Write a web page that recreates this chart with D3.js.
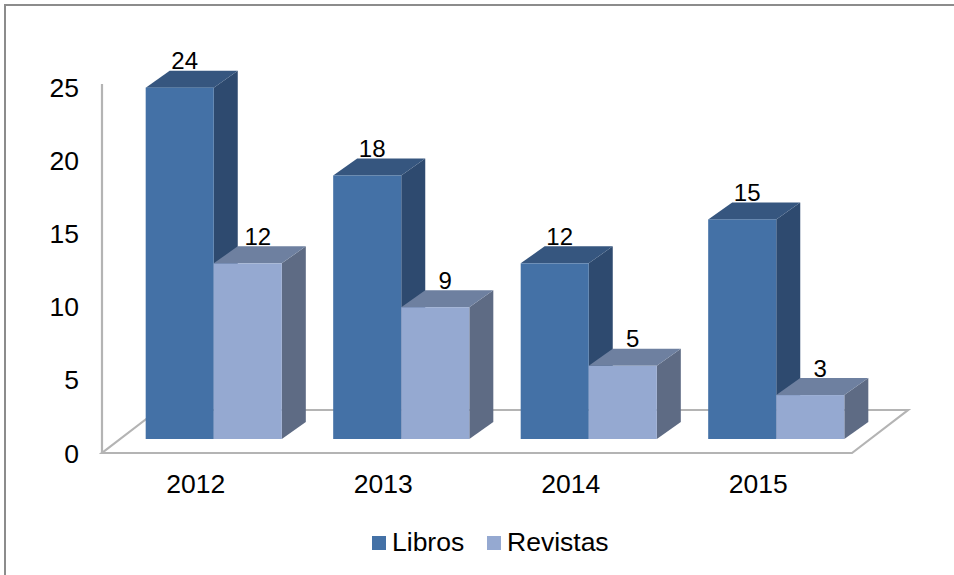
<!DOCTYPE html>
<html>
<head>
<meta charset="utf-8">
<script src="https://cdn.jsdelivr.net/npm/d3@7"></script>
<style>
html,body{margin:0;padding:0;background:#fff;}
svg{display:block;font-family:"Liberation Sans",Arial,sans-serif;}
</style>
</head>
<body>
<svg id="chart" width="954" height="575"></svg>
<script>
const categories = ["2012","2013","2014","2015"];
const seriesNames = ["Libros","Revistas"];
const libros = [24,18,12,15];
const revistas = [12,9,5,3];
const yTicks = [0,5,10,15,20,25];

const seriesValues = [libros, revistas];
const colors = {
  Libros:   {front:"#4471a6", side:"#2e4a6f", top:"#36567f", labelDx:5},
  Revistas: {front:"#95a9d1", side:"#5e6b84", top:"#6e80a0", labelDx:10}
};

const svg = d3.select("#chart");
const W = 954, H = 575;

// outer border (only top and left visible in reference)
svg.append("rect").attr("x",5).attr("y",5).attr("width",W+10).attr("height",H+10)
  .attr("fill","none").attr("stroke","#8c8c8c").attr("stroke-width",2);

const x0 = 102, x1 = 852, yBase = 453;
const x = d3.scaleBand().domain(categories).range([x0, x1]).paddingInner(0.274).paddingOuter(0.137);
const xs = d3.scaleBand().domain(seriesNames).range([0, x.bandwidth()]);
const y = d3.scaleLinear().domain([0,25]).range([yBase, 87]);

const floorD = {dx:56, dy:-43};
const barShift = {dx:18, dy:-14};
const barD = {dx:24, dy:-17};

// floor
const floorPts = [[x0,yBase],[x1,yBase],[x1+floorD.dx,yBase+floorD.dy],[x0+floorD.dx,yBase+floorD.dy]];
svg.append("polygon").attr("points", floorPts.map(p=>p.join(",")).join(" "))
  .attr("fill","#fff").attr("stroke","#b4b4b4").attr("stroke-width",2.2).attr("stroke-linejoin","miter");

// vertical axis line
svg.append("line").attr("x1",x0).attr("x2",x0).attr("y1",y(25)-3).attr("y2",yBase)
  .attr("stroke","#b4b4b4").attr("stroke-width",2.2);

// y tick labels
svg.append("g").selectAll("text").data(yTicks).join("text")
  .attr("x",79).attr("y",d=>y(d)).attr("dy","0.36em")
  .attr("text-anchor","end").attr("font-size",26.5).attr("fill","#000")
  .text(d=>d);

// category labels
svg.append("g").selectAll("text").data(categories).join("text")
  .attr("x",d=>x(d)+x.bandwidth()/2).attr("y",492.5)
  .attr("text-anchor","middle").attr("font-size",26.5).attr("fill","#000")
  .text(d=>d);

// bars
const bars = [];
categories.forEach((c,i)=>{
  seriesNames.forEach((s,j)=>{
    bars.push({cat:c, series:s, value:seriesValues[j][i]});
  });
});

const gBars = svg.append("g");
bars.forEach(b=>{
  const fx = x(b.cat) + xs(b.series) + barShift.dx;
  const w = xs.bandwidth();
  const yb = y(0) + barShift.dy;
  const yt = y(b.value) + barShift.dy;
  const col = colors[b.series];
  const g = gBars.append("g");
  g.append("polygon").attr("points",[
    [fx+w,yt],[fx+w+barD.dx,yt+barD.dy],[fx+w+barD.dx,yb+barD.dy],[fx+w,yb]
  ].map(p=>p.join(",")).join(" ")).attr("fill",col.side);
  g.append("polygon").attr("points",[
    [fx,yt],[fx+barD.dx,yt+barD.dy],[fx+w+barD.dx,yt+barD.dy],[fx+w,yt]
  ].map(p=>p.join(",")).join(" ")).attr("fill",col.top);
  g.append("rect").attr("x",fx).attr("y",yt).attr("width",w).attr("height",yb-yt)
    .attr("fill",col.front);
  g.append("text").attr("x",fx+w/2+col.labelDx).attr("y",yt+barD.dy-1.5)
    .attr("text-anchor","middle").attr("font-size",24).attr("fill","#000")
    .text(b.value);
});

// legend
const legend = svg.append("g");
const legendItems = [{name:"Libros", x:372},{name:"Revistas", x:487}];
legendItems.forEach(it=>{
  legend.append("rect").attr("x",it.x).attr("y",536).attr("width",14).attr("height",14)
    .attr("fill",colors[it.name].front);
  legend.append("text").attr("x",it.x+20).attr("y",551).attr("font-size",26.5).attr("fill","#000")
    .text(it.name);
});
</script>
</body>
</html>
